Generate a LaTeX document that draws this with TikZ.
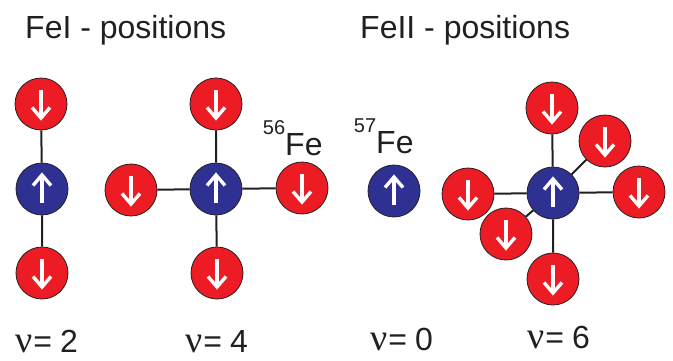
\documentclass[tikz,border=0pt]{standalone}
\usepackage{fontspec}
\setmainfont{Liberation Sans}
\newfontfamily\greekfont{Liberation Serif}
\definecolor{spinred}{HTML}{ED1C24}
\definecolor{spinblue}{HTML}{2E3192}
\definecolor{ink}{HTML}{231F20}
\tikzset{
  atom/.style={circle, minimum size=52pt, inner sep=0pt, draw=ink, line width=0.8pt},
  spinarrow/.style={white, line width=3.4pt, line join=miter, line cap=butt},
  downatom/.style={atom, fill=spinred, path picture={
      \draw[spinarrow, shift={(path picture bounding box.center)}] (0,-14) -- (0,14);
      \draw[spinarrow, shift={(path picture bounding box.center)}] (-9,3.5) -- (0,14) -- (9,3.5);}},
  upatom/.style={atom, fill=spinblue, path picture={
      \draw[spinarrow, shift={(path picture bounding box.center)}] (0,14) -- (0,-14);
      \draw[spinarrow, shift={(path picture bounding box.center)}] (-9,-3.5) -- (0,-14) -- (9,-3.5);}},
  bond/.style={draw=ink, line width=2pt},
  title/.style={anchor=base west, inner sep=0pt, text=ink, font=\fontsize{32}{36}\selectfont},
  iso/.style={anchor=base west, inner sep=0pt, text=ink, font=\fontsize{32}{36}\selectfont},
  count/.style={anchor=base west, inner sep=0pt, text=ink, font=\fontsize{32}{34}\selectfont}
}
\newcommand{\cnum}[1]{{\greekfont\fontsize{38}{38}\selectfont ν}\kern1pt=\kern8pt#1}
\begin{document}
\begin{tikzpicture}[x=1pt, y=-1pt]
\useasboundingbox (0,0) rectangle (673,360);

% headings
\node[title] (t1) at (25,38) {FeI - positions};
\node[title] (t2) at (360,38) {FeII - positions};

% FeI, two neighbours
\node[upatom]   (a0) at (42,189) {};
\node[downatom] (a1) at (41,104) {};
\node[downatom] (a2) at (42,273) {};

% FeI, four neighbours
\node[upatom]   (b0) at (216,189) {};
\node[downatom] (b1) at (216,104) {};
\node[downatom] (b2) at (131,190) {};
\node[downatom] (b3) at (302,188) {};
\node[downatom] (b4) at (217,273) {};

% FeII, isolated
\node[upatom]   (c0) at (394,191) {};

% FeII, six neighbours
\node[upatom]   (d0) at (553,193) {};
\node[downatom] (d1) at (552,108) {};
\node[downatom] (d2) at (605,141) {};
\node[downatom] (d3) at (639,192) {};
\node[downatom] (d4) at (468,194) {};
\node[downatom] (d5) at (506,234) {};
\node[downatom] (d6) at (553,279) {};

% bonds between the atoms
\path[bond] (a0) -- (a1) (a0) -- (a2);
\path[bond] (b0) -- (b1) (b0) -- (b2) (b0) -- (b3) (b0) -- (b4);
\path[bond] (d0) -- (d1) (d0) -- (d2) (d0) -- (d3) (d0) -- (d4) (d0) -- (d5) (d0) -- (d6);

% isotope labels
\node[iso] (f56) at (285,155) {\llap{\raisebox{21pt}{\fontsize{20}{22}\selectfont 56}}Fe};
\node[iso] (f57) at (376,153) {\llap{\raisebox{21pt}{\fontsize{20}{22}\selectfont 57}}Fe};

% coordination numbers
\node[count] (n1) at (15,352) {\cnum{2}};
\node[count] (n2) at (185,352) {\cnum{4}};
\node[count] (n3) at (370,350) {\cnum{0}};
\node[count] (n4) at (527,348) {\cnum{6}};
\end{tikzpicture}
\end{document}
